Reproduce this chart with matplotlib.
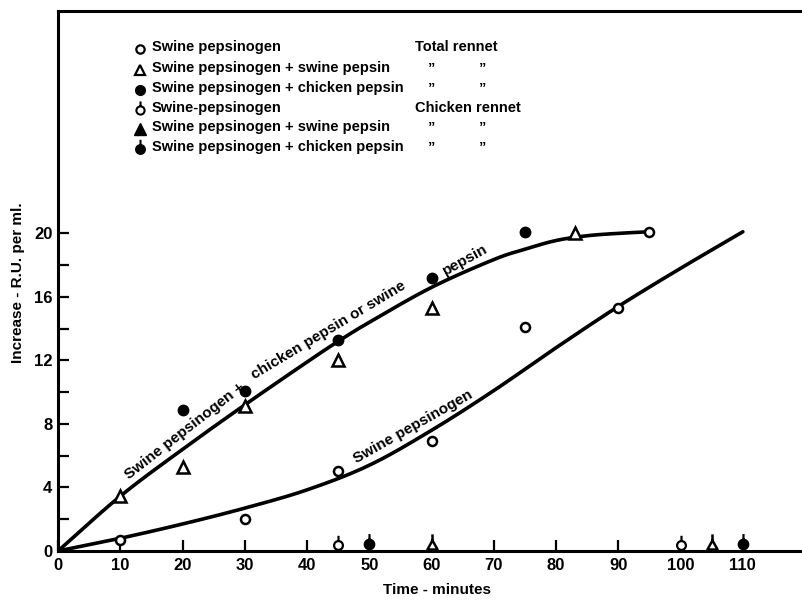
import numpy as np
import matplotlib
matplotlib.use("Agg")
import matplotlib.pyplot as plt
from matplotlib.path import Path

plt.rcParams["font.family"] = ["Liberation Sans", "DejaVu Sans"]
plt.rcParams["font.weight"] = "bold"
FS = 10.5

# ---- measured points: total rennet ----
pg_t = [10, 30, 45, 60, 75, 90, 95]
pg_v = [0.7, 2.0, 5.05, 6.9, 14.1, 15.3, 20.1]

pgsw_t = [10, 20, 30, 45, 60, 83]
pgsw_v = [3.45, 5.3, 9.1, 12.0, 15.3, 20.0]

pgch_t = [20, 30, 45, 60, 75]
pgch_v = [8.9, 10.1, 13.3, 17.2, 20.1]

# ---- measured points: chicken rennet ----
cr_pg_t = [45, 100]
cr_pg_v = [0.4, 0.4]
cr_sw_t = [60, 105]
cr_sw_v = [0.35, 0.35]
cr_ch_t = [50, 110]
cr_ch_v = [0.45, 0.45]

# ---- hand-fitted curves ----
upper_t = [0, 10, 20, 30, 40, 45, 50, 60, 70, 75, 80, 85, 90, 95]
upper_v = [0, 3.45, 6.4, 9.2, 11.9, 13.2, 14.4, 16.6, 18.35, 19.0, 19.55, 19.85, 20.0, 20.1]

lower_t = [0, 10, 20, 30, 40, 50, 60, 70, 80, 90, 100, 110]
lower_v = [0, 0.8, 1.7, 2.7, 3.85, 5.4, 7.6, 10.1, 12.8, 15.4, 17.8, 20.1]

x_ticks = list(range(0, 120, 10))
y_major = [0, 4, 8, 12, 16, 20]
y_minor = [2, 6, 10, 14, 18]

legend_rows = [
    ("Swine pepsinogen", "Total rennet"),
    ("Swine pepsinogen + swine pepsin", None),
    ("Swine pepsinogen + chicken pepsin", None),
    ("Swine-pepsinogen", "Chicken rennet"),
    ("Swine pepsinogen + swine pepsin", None),
    ("Swine pepsinogen + chicken pepsin", None),
]


def smooth(xs, ys, n=20):
    """Catmull-Rom curve through the given knots."""
    p = np.column_stack([xs, ys]).astype(float)
    p = np.vstack([2 * p[0] - p[1], p, 2 * p[-1] - p[-2]])
    out = []
    s = np.linspace(0, 1, n, endpoint=False)[:, None]
    for i in range(1, len(p) - 2):
        p0, p1, p2, p3 = p[i - 1], p[i], p[i + 1], p[i + 2]
        seg = 0.5 * ((2 * p1) + (-p0 + p2) * s
                     + (2 * p0 - 5 * p1 + 4 * p2 - p3) * s ** 2
                     + (-p0 + 3 * p1 - 3 * p2 + p3) * s ** 3)
        out.append(seg)
    out.append(p[-2][None, :])
    c = np.vstack(out)
    return c[:, 0], c[:, 1]


def stem_marker(shape="circle"):
    if shape == "circle":
        body = Path.unit_circle()
    else:
        body = Path([(-1, -0.8), (1, -0.8), (0, 1.0), (-1, -0.8)],
                    [Path.MOVETO, Path.LINETO, Path.LINETO, Path.CLOSEPOLY])
    stem = Path([(0, 1.0), (0, 2.2)], [Path.MOVETO, Path.LINETO])
    return Path.make_compound_path(body, stem)


CIRCLE_STEM = stem_marker("circle")
TRI_STEM = stem_marker("tri")

fig = plt.figure(figsize=(8.02, 6.0), dpi=100)
ax = fig.add_axes([58 / 802, 49 / 600, 744 / 802, 540 / 600])
ax.set_xlim(0, 119.5)
ax.set_ylim(0, 34.0)

for s in ["left", "bottom", "top"]:
    ax.spines[s].set_linewidth(2.2)
ax.spines["right"].set_visible(False)

ax.set_xticks(x_ticks)
ax.set_xticklabels([str(t) for t in x_ticks])
ax.set_yticks(y_major)
ax.set_yticklabels([str(t) for t in y_major])
ax.set_yticks(y_minor, minor=True)
ax.tick_params(axis="both", which="both", direction="in", length=8,
               width=1.6, labelsize=12)
ax.tick_params(axis="x", pad=5)
ax.tick_params(axis="y", pad=4)
for lab in ax.get_xticklabels() + ax.get_yticklabels():
    lab.set_fontweight("bold")

# fitted curves
ux, uy = smooth(upper_t, upper_v)
lx, ly = smooth(lower_t, lower_v)
ax.plot(ux, uy, color="black", lw=2.6, solid_capstyle="round", zorder=2)
ax.plot(lx, ly, color="black", lw=2.6, solid_capstyle="round", zorder=2)

# data points
ax.plot(pg_t, pg_v, "o", ms=6.5, mfc="white", mec="black", mew=1.8, zorder=4, clip_on=False)
ax.plot(pgsw_t, pgsw_v, "^", ms=8, mfc="white", mec="black", mew=1.8, zorder=4, clip_on=False)
ax.plot(pgch_t, pgch_v, "o", ms=7.5, mfc="black", mec="black", zorder=4, clip_on=False)
ax.plot(cr_pg_t, cr_pg_v, marker=CIRCLE_STEM, ls="none", ms=14, mfc="white",
        mec="black", mew=1.6, zorder=4, clip_on=False)
ax.plot(cr_sw_t, cr_sw_v, marker=TRI_STEM, ls="none", ms=16, mfc="white",
        mec="black", mew=1.8, zorder=4, clip_on=False)
ax.plot(cr_ch_t, cr_ch_v, marker=CIRCLE_STEM, ls="none", ms=15, mfc="black",
        mec="black", mew=1.6, zorder=4, clip_on=False)

# curve labels
lab_kw = dict(fontsize=FS + 0.5, fontweight="bold", ha="left", va="baseline",
              rotation_mode="anchor", zorder=3)
ax.text(11.4, 4.5, "Swine pepsinogen +", rotation=38, **lab_kw)
ax.text(31.6, 10.8, "chicken pepsin or swine", rotation=31, **lab_kw)
ax.text(62.3, 17.35, "pepsin", rotation=29, **lab_kw)
ax.text(47.9, 5.5, "Swine pepsinogen", rotation=29.5, **lab_kw)

# key
row_y = [0.9333, 0.8944, 0.8574, 0.8204, 0.7852, 0.7481]
mk_x = 0.110
tx_x = 0.1263
key_markers = [
    dict(marker="o", ms=6, mfc="white", mec="black", mew=1.6),
    dict(marker="^", ms=7, mfc="white", mec="black", mew=1.6),
    dict(marker="o", ms=7, mfc="black", mec="black"),
    dict(marker=CIRCLE_STEM, ms=13, mfc="white", mec="black", mew=1.5),
    dict(marker="^", ms=8, mfc="black", mec="black"),
    dict(marker=CIRCLE_STEM, ms=14, mfc="black", mec="black", mew=1.5),
]
for (name, rennet), y, mk in zip(legend_rows, row_y, key_markers):
    ax.plot([mk_x], [y - 0.004], ls="none", transform=ax.transAxes,
            clip_on=False, **mk)
    ax.text(tx_x, y, name, transform=ax.transAxes, fontsize=FS,
            fontweight="bold", va="center", ha="left")
    if rennet:
        ax.text(0.4798, y, rennet, transform=ax.transAxes, fontsize=FS,
                fontweight="bold", va="center", ha="left")
    else:
        for dx in (0.5027, 0.5712):
            ax.text(dx, y, "\u201d", transform=ax.transAxes, fontsize=FS,
                    fontweight="bold", va="center", ha="center")

fig.text(437 / 802, 1 - 590 / 600, "Time - minutes", fontsize=FS + 0.5,
         fontweight="bold", ha="center", va="center")
fig.text(18 / 802, 1 - 283 / 600, "Increase - R.U. per ml.", fontsize=FS + 0.5,
         fontweight="bold", ha="center", va="center", rotation=90)

fig.savefig("out.png", dpi=100)
